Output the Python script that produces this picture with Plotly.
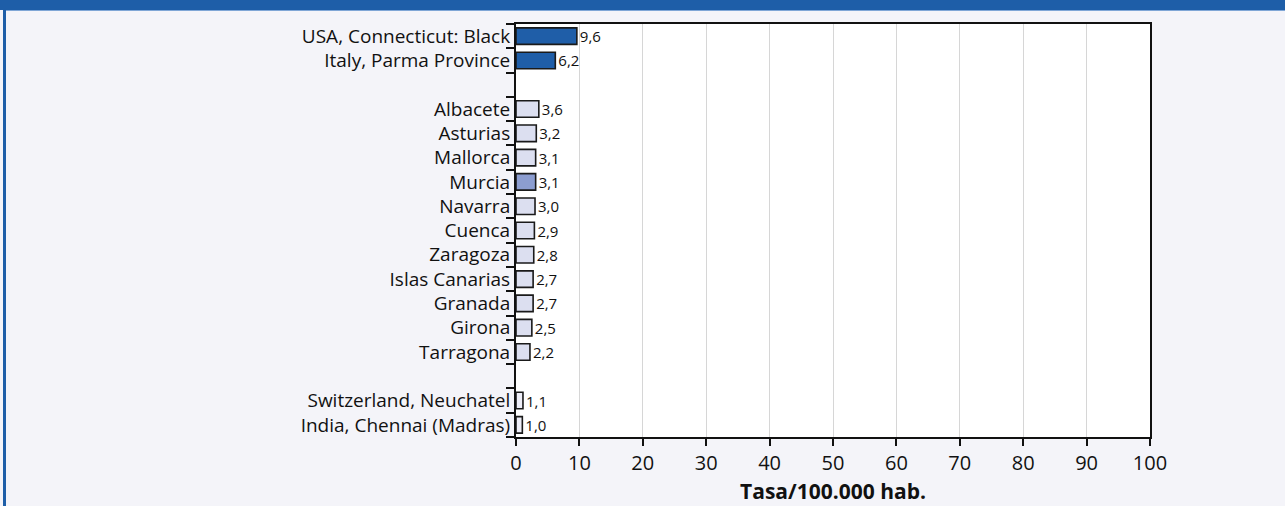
import plotly.graph_objects as go

# Incidence rates per 100,000 inhabitants (blank rows separate the groups)
categories = [
    "USA, Connecticut: Black", "Italy, Parma Province", " ",
    "Albacete", "Asturias", "Mallorca", "Murcia", "Navarra", "Cuenca",
    "Zaragoza", "Islas Canarias", "Granada", "Girona", "Tarragona", "  ",
    "Switzerland, Neuchatel", "India, Chennai (Madras)",
]
rates = [9.6, 6.2, None, 3.6, 3.2, 3.1, 3.1, 3.0, 2.9, 2.8, 2.7, 2.7, 2.5, 2.2,
         None, 1.1, 1.0]
groups = ["intl", "intl", None, "es", "es", "es", "murcia", "es", "es", "es",
          "es", "es", "es", "es", None, "intl_low", "intl_low"]
x_ticks = [0, 10, 20, 30, 40, 50, 60, 70, 80, 90, 100]

palette = {"intl": "#1f5ea8", "es": "#dcdff0", "murcia": "#8c9dd0",
           "intl_low": "#eeeef8", None: "#ffffff"}
bar_colors = [palette[g] for g in groups]
labels = ["" if v is None else f"{v:.1f}".replace(".", ",") for v in rates]

W, H = 1285, 506
L, R, T, B = 516, 1150, 24, 437
FONT = "Open Sans"

fig = go.Figure(go.Bar(
    y=categories, x=rates, orientation="h",
    marker=dict(color=bar_colors, line=dict(color="#1a1a1a", width=1.6)),
    text=labels, textposition="outside", cliponaxis=False,
    constraintext="none",
    textfont=dict(family=FONT, size=15, color="#111111"),
    width=0.68,
))

def px_x(px):
    return (px - L) / (R - L)

def px_y(py):
    return (B - py) / (B - T)

shapes = [
    # top banner
    dict(type="rect", xref="paper", yref="paper", layer="above",
         x0=px_x(-5), x1=px_x(W + 5), y0=px_y(10), y1=px_y(-5),
         fillcolor="#1e5ea8", line=dict(width=0)),
    dict(type="rect", xref="paper", yref="paper", layer="above",
         x0=px_x(3), x1=px_x(W + 5), y0=px_y(11), y1=px_y(10),
         fillcolor="#7fa6d6", line=dict(width=0)),
    # left border
    dict(type="rect", xref="paper", yref="paper", layer="above",
         x0=px_x(3), x1=px_x(6), y0=px_y(H + 5), y1=px_y(10),
         fillcolor="#1e5ea8", line=dict(width=0)),
]

fig.update_layout(
    width=W, height=H,
    margin=dict(l=L, r=W - R, t=T, b=H - B, autoexpand=False),
    paper_bgcolor="#f4f4f9", plot_bgcolor="#ffffff",
    showlegend=False, bargap=0.3,
    shapes=shapes,
    font=dict(family=FONT, color="#111111"),
)
fig.update_xaxes(
    range=[0, 100], tickvals=x_ticks, ticktext=[str(t) for t in x_ticks],
    showgrid=True, gridcolor="#d6d6d6", gridwidth=1.2, zeroline=False,
    showline=True, linecolor="#111111", linewidth=2, mirror=True,
    ticks="outside", ticklen=7, tickcolor="#111111", tickwidth=1.5,
    tickfont=dict(family=FONT, size=20, color="#111111"),
    automargin=False,
    title=dict(text="<b>Tasa/100.000 hab.</b>", standoff=9,
               font=dict(family=FONT, size=21, color="#111111")),
)
fig.update_yaxes(
    categoryorder="array", categoryarray=categories, autorange="reversed",
    tickmode="array", tickvals=categories, ticktext=categories,
    showline=True, linecolor="#111111", linewidth=2, mirror=True,
    ticks="outside", tickson="boundaries", ticklen=8, tickcolor="#111111",
    tickwidth=1.5, showgrid=False, automargin=False,
    tickfont=dict(family=FONT, size=19, color="#111111"),
)

fig.write_html("out.html")
